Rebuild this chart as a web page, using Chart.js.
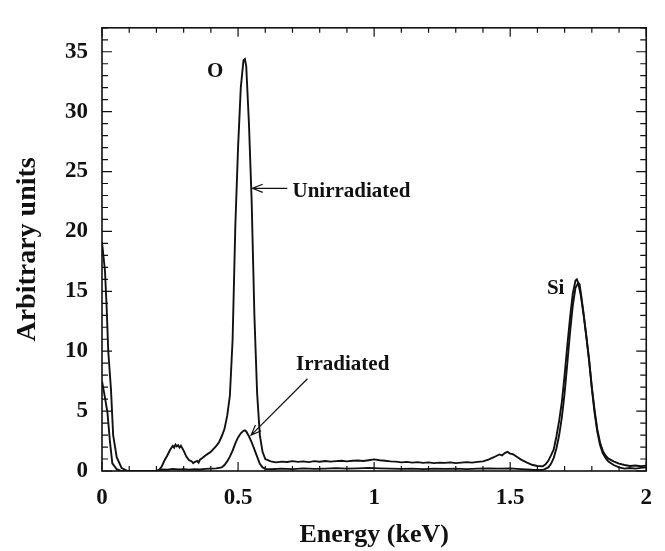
<!DOCTYPE html>
<html>
<head>
<meta charset="utf-8">
<script src="https://cdn.jsdelivr.net/npm/chart.js@4.4.0/dist/chart.umd.min.js"></script>
<style>
  html, body { margin: 0; padding: 0; background: #fff; }
  #wrap { width: 665px; height: 551px; }
</style>
</head>
<body>
<div id="wrap"><canvas id="spectrum"></canvas></div>
<script>
// EDS spectra: energy (keV) vs counts, arbitrary units
const unirrEnergy = [
  0, 0.011, 0.017, 0.023, 0.033, 0.041, 0.054, 0.072, 0.095, 0.2,
  0.21, 0.22, 0.23, 0.24, 0.25, 0.26, 0.265, 0.27, 0.275, 0.28, 0.285, 0.29, 0.30, 0.31, 0.32,
  0.33, 0.335, 0.34, 0.35, 0.355, 0.36, 0.37, 0.38, 0.39, 0.40, 0.41, 0.42, 0.43, 0.44, 0.45,
  0.46, 0.47, 0.48, 0.49, 0.50, 0.51, 0.52, 0.525, 0.53, 0.54, 0.55, 0.56, 0.57, 0.58, 0.59, 0.60,
  0.62, 0.64, 0.66, 0.68, 0.70, 0.72, 0.74, 0.76, 0.78, 0.80, 0.82, 0.84, 0.86, 0.88, 0.90,
  0.92, 0.94, 0.96, 0.98, 1.00, 1.02, 1.04, 1.06, 1.08, 1.10, 1.12, 1.14, 1.16, 1.18, 1.20,
  1.22, 1.24, 1.26, 1.28, 1.30, 1.32, 1.34, 1.36, 1.38, 1.40,
  1.42, 1.44, 1.46, 1.47, 1.48, 1.49, 1.50, 1.51, 1.52, 1.54, 1.56, 1.58, 1.60, 1.62, 1.63,
  1.64, 1.65, 1.66, 1.67, 1.68, 1.69, 1.70, 1.71, 1.72, 1.73, 1.74, 1.745, 1.75, 1.76, 1.77,
  1.78, 1.79, 1.80, 1.81, 1.82, 1.83, 1.84, 1.85, 1.86, 1.88, 1.90, 1.92, 1.94, 1.96, 1.98, 2.0
];
const unirrCounts = [
  19.1, 16.7, 13.7, 10.0, 6.8, 3.0, 1.15, 0.25, 0, 0,
  0.1, 0.4, 0.9, 1.3, 1.75, 2.1, 1.95, 2.2, 2.05, 2.15, 1.95, 2.1, 1.7, 1.2, 0.9,
  0.8, 0.65, 0.75, 0.85, 0.7, 0.95, 1.1, 1.3, 1.45, 1.6, 1.85, 2.1, 2.4, 2.9, 3.5,
  4.6, 6.3, 11, 20.5, 27, 32, 34.3, 34.4, 33.8, 29, 22.5, 13, 6.5, 3.0, 1.6, 1.0,
  0.8, 0.72, 0.78, 0.75, 0.82, 0.76, 0.8, 0.74, 0.82, 0.77, 0.84, 0.78, 0.82, 0.86, 0.8,
  0.85, 0.88, 0.84, 0.9, 0.97, 0.9, 0.86, 0.8, 0.78, 0.72, 0.76, 0.7, 0.74, 0.68, 0.72,
  0.66, 0.7, 0.68, 0.72, 0.66, 0.7, 0.74, 0.7, 0.76, 0.8,
  0.95, 1.15, 1.38, 1.3, 1.5, 1.6, 1.45, 1.4, 1.25, 0.95, 0.72, 0.52, 0.42, 0.4, 0.55,
  0.85, 1.3, 1.8, 2.9, 4.2, 5.8, 8.0, 10.5, 12.8, 14.8, 15.9, 16.0, 15.7, 14.6, 13.0,
  11.2, 9.3, 7.0, 5.1, 3.5, 2.4, 1.7, 1.3, 1.05, 0.8, 0.62, 0.5, 0.42, 0.46, 0.4, 0.45
];

const irrEnergy = [
  0, 0.008, 0.02, 0.029, 0.038, 0.054, 0.07, 0.2, 0.21,
  0.22, 0.24, 0.26, 0.28, 0.30, 0.32, 0.34, 0.36, 0.38, 0.40, 0.42, 0.44,
  0.45, 0.46, 0.47, 0.48, 0.49, 0.50, 0.51, 0.52, 0.525, 0.53, 0.54, 0.55, 0.56, 0.57, 0.58, 0.59, 0.60,
  0.62, 0.66, 0.70, 0.74, 0.78, 0.82, 0.86, 0.90, 0.94, 0.98, 1.02, 1.06, 1.10, 1.14, 1.18,
  1.22, 1.26, 1.30, 1.34, 1.38, 1.42, 1.46, 1.50, 1.54, 1.58, 1.62,
  1.64, 1.65, 1.66, 1.67, 1.68, 1.69, 1.70, 1.71, 1.72, 1.73, 1.74, 1.75, 1.755, 1.76, 1.77,
  1.78, 1.79, 1.80, 1.81, 1.82, 1.83, 1.84, 1.85, 1.86, 1.88, 1.90, 1.92, 1.94, 1.96, 1.98, 2.0
];
const irrCounts = [
  7.5, 6.5, 4.9, 2.5, 0.64, 0.15, 0, 0, 0.08,
  0.12, 0.1, 0.18, 0.12, 0.16, 0.1, 0.14, 0.12, 0.18, 0.2, 0.22, 0.3,
  0.5, 0.8, 1.2, 1.7, 2.3, 2.8, 3.15, 3.35, 3.4, 3.3, 2.9, 2.4, 1.8, 1.2, 0.6, 0.3, 0.18,
  0.15, 0.2, 0.16, 0.22, 0.18, 0.2, 0.24, 0.2, 0.22, 0.26, 0.22, 0.2, 0.18, 0.2, 0.16,
  0.2, 0.18, 0.2, 0.16, 0.2, 0.22, 0.2, 0.22, 0.16, 0.1, 0.08,
  0.3, 0.6, 1.1, 1.9, 3.0, 4.5, 6.5, 9.0, 11.6, 13.8, 15.3, 15.7, 15.6, 14.8, 13.1,
  11.2, 9.2, 6.9, 4.9, 3.3, 2.2, 1.5, 1.1, 0.8, 0.5, 0.3, 0.2, 0.25, 0.2, 0.26, 0.3
];

// peak / curve labels, placed in data units
const notes = [
  { text: 'O', x: 0.416, y: 33.35, align: 'center' },
  { text: 'Unirradiated', x: 0.70, y: 23.35, align: 'left' },
  { text: 'Irradiated', x: 0.713, y: 8.9, align: 'left' },
  { text: 'Si', x: 1.667, y: 15.25, align: 'center' }
];
const arrows = [
  { from: [0.681, 23.6], to: [0.553, 23.6] },
  { from: [0.755, 7.7], to: [0.548, 3.0] }
];

const serif = '"Liberation Serif", "Times New Roman", serif';

function toPoints(xs, ys) {
  return xs.map((x, i) => ({ x: x, y: ys[i] }));
}

// box frame, inward ticks on all four sides, labels and arrows
const frameAndNotes = {
  id: 'frameAndNotes',
  afterDatasetsDraw(chart) {
    const { ctx, chartArea: a, scales } = chart;
    const xs = scales.x, ys = scales.y;
    ctx.save();
    ctx.strokeStyle = '#111';
    ctx.lineWidth = 1.6;
    ctx.strokeRect(a.left, a.top, a.right - a.left, a.bottom - a.top);

    ctx.lineWidth = 1.2;
    ctx.beginPath();
    xs.ticks.forEach(t => {
      const px = xs.getPixelForValue(t.value);
      const len = Math.round(t.value * 10) % 5 === 0 ? 9 : 5;
      ctx.moveTo(px, a.bottom); ctx.lineTo(px, a.bottom - len);
      ctx.moveTo(px, a.top); ctx.lineTo(px, a.top + len);
    });
    ys.ticks.forEach(t => {
      const py = ys.getPixelForValue(t.value);
      const len = Math.round(t.value) % 5 === 0 ? 10 : 6;
      ctx.moveTo(a.left, py); ctx.lineTo(a.left + len, py);
      ctx.moveTo(a.right, py); ctx.lineTo(a.right - len, py);
    });
    ctx.stroke();

    ctx.fillStyle = '#111';
    ctx.font = 'bold 21px ' + serif;
    ctx.textBaseline = 'middle';
    notes.forEach(n => {
      ctx.textAlign = n.align;
      ctx.fillText(n.text, xs.getPixelForValue(n.x), ys.getPixelForValue(n.y));
    });

    ctx.lineWidth = 1.2;
    arrows.forEach(ar => {
      const x1 = xs.getPixelForValue(ar.from[0]), y1 = ys.getPixelForValue(ar.from[1]);
      const x2 = xs.getPixelForValue(ar.to[0]), y2 = ys.getPixelForValue(ar.to[1]);
      const ang = Math.atan2(y2 - y1, x2 - x1);
      const head = 11, spread = 0.38;
      ctx.beginPath();
      ctx.moveTo(x1, y1); ctx.lineTo(x2, y2);
      ctx.moveTo(x2 - head * Math.cos(ang - spread), y2 - head * Math.sin(ang - spread));
      ctx.lineTo(x2, y2);
      ctx.lineTo(x2 - head * Math.cos(ang + spread), y2 - head * Math.sin(ang + spread));
      ctx.stroke();
    });
    ctx.restore();
  }
};

const lineStyle = {
  showLine: true,
  borderColor: '#111',
  borderWidth: 1.9,
  pointRadius: 0,
  tension: 0,
  fill: false
};

new Chart(document.getElementById('spectrum'), {
  type: 'scatter',
  data: {
    datasets: [
      Object.assign({ label: 'Unirradiated', data: toPoints(unirrEnergy, unirrCounts) }, lineStyle),
      Object.assign({ label: 'Irradiated', data: toPoints(irrEnergy, irrCounts) }, lineStyle)
    ]
  },
  options: {
    responsive: true,
    maintainAspectRatio: false,
    animation: false,
    layout: { padding: { top: 10, right: 17, left: 0, bottom: 0 } },
    plugins: { legend: { display: false }, tooltip: { enabled: false } },
    scales: {
      x: {
        type: 'linear',
        min: 0,
        max: 2,
        grid: { display: false, drawTicks: false },
        border: { display: false },
        afterFit(scale) { scale.height = 80; },
        ticks: {
          stepSize: 0.1,
          autoSkip: false,
          maxRotation: 0,
          padding: 13,
          color: '#111',
          font: { family: serif, size: 23, weight: 'bold' },
          callback(v) {
            const r = Math.round(v * 10);
            return r % 5 === 0 ? String(r / 10) : '';
          }
        },
        title: {
          display: true,
          text: 'Energy (keV)',
          color: '#111',
          padding: { top: 0, bottom: 0 },
          font: { family: serif, size: 26, weight: 'bold' }
        }
      },
      y: {
        type: 'linear',
        min: 0,
        max: 37,
        grid: { display: false, drawTicks: false },
        border: { display: false },
        afterFit(scale) { scale.width = 102; },
        ticks: {
          stepSize: 1,
          autoSkip: false,
          padding: 14,
          color: '#111',
          font: { family: serif, size: 23, weight: 'bold' },
          callback(v) {
            return Math.round(v) % 5 === 0 ? String(Math.round(v)) : '';
          }
        },
        title: {
          display: true,
          text: 'Arbitrary units',
          color: '#111',
          padding: { top: 11, bottom: 0 },
          font: { family: serif, size: 28, weight: 'bold' }
        }
      }
    }
  },
  plugins: [frameAndNotes]
});
</script>
</body>
</html>
